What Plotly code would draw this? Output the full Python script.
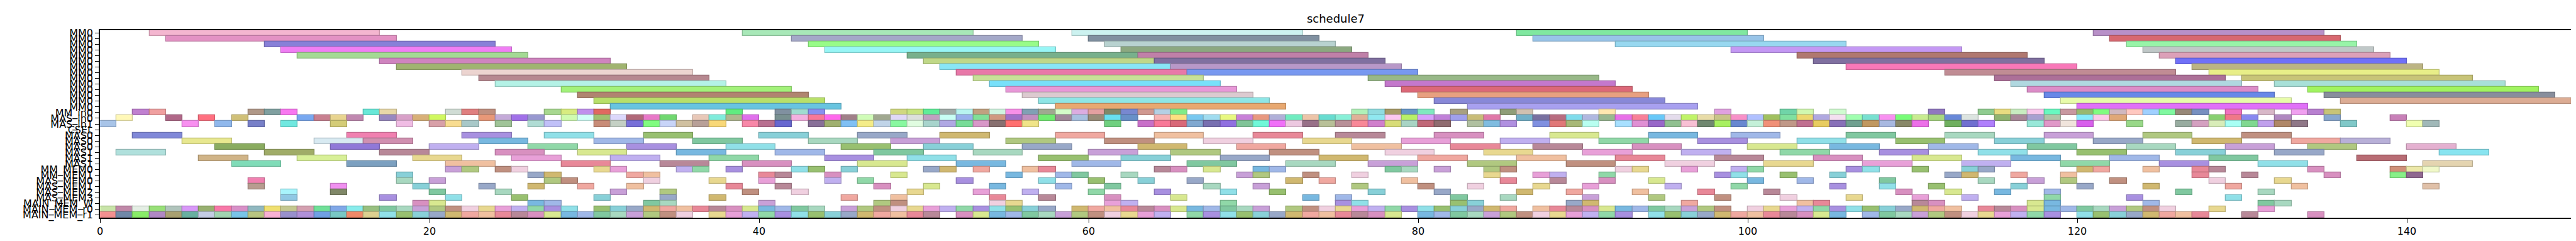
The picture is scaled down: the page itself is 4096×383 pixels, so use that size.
import plotly.graph_objects as go

# ---------------- labels (top to bottom) ----------------
LABELS = ["MM0"] * 14 + [
    "MM_in0", "MAS_in0", "MAS_in1", "CSEL",
    "MAS0", "MAS0", "MAS0", "MAS1", "MAS1", "MAS1",
    "MM_MEM0", "MM_MEM1", "MAS_MEM0", "MAS_MEM1", "MAS_MEM2", "MAS_MEM3",
    "MAIN_MEM_W", "MAIN_MEM_r0", "MAIN_MEM_r1",
]
X_TICKS = [0, 20, 40, 60, 80, 100, 120, 140]

# ---------------- MM rows: long tasks (duration 14) ----------------
MM_DUR = 14
mm_start = [
    [3, 39, 59, 86, 121],
    [4, 42, 60, 87, 122],
    [10, 43, 61, 92, 123],
    [11, 44, 62, 99, 124],
    [12, 49, 63, 103, 125],
    [17, 50, 64, 104, 126],
    [18, 51, 65, 106, 127],
    [22, 52, 66, 112, 128],
    [23, 53, 77, 115, 130],
    [24, 54, 78, 116, 132],
    [28, 55, 79, 117, 134],
    [29, 56, 80, 118, 135],
    [30, 57, 81, 119, 136],
    [31, 58, 83, 120],
]
mm_color = [
    ["#f4b6d0", "#a8e8b8", "#ccf2f0", "#80e8a0", "#b890c8"],
    ["#e392c4", "#a4a8c8", "#8090a0", "#98c4e8", "#d86870"],
    ["#8880d8", "#98fc88", "#b8d2d0", "#98d8f0", "#98f4a8"],
    ["#f07ef4", "#98f6f6", "#8ca880", "#c498f4", "#c0c8c8"],
    ["#a4da94", "#78b08c", "#c080a8", "#b07870", "#dca0b8"],
    ["#cf84bf", "#c0d888", "#8070a0", "#8070a0", "#7070f8"],
    ["#a0b470", "#88e6f6", "#b898c8", "#f878b8", "#bcb484"],
    ["#ecd4d0", "#e878a8", "#7898f0", "#c08c94", "#e8ee88"],
    ["#b68890", "#c8e098", "#98b888", "#ac7098", "#c8c478"],
    ["#b4f2e6", "#78e0fa", "#c478cc", "#b0d8e0", "#a8e0d8"],
    ["#a2f27a", "#e898d8", "#dc6878", "#dc8cc8", "#a0f460"],
    ["#b08570", "#dccad0", "#e8a080", "#6888e8", "#888e9c"],
    ["#b8e06a", "#8ee6e6", "#8888d8", "#e8fcaa", "#dcac94"],
    ["#68c4e0", "#e8a870", "#a8a0f0", "#e070f8"],
]

# ---------------- MM_in0 (unit slots) ----------------
r14_start = [2, 3, 9, 10, 11, 16, 17, 21, 22, 23,
             27, 28, 29, 30, 38, 41, 42, 43, 48, 49,
             50, 51, 52, 53, 54, 55, 56, 57, 58, 59, 60, 61, 62, 63, 64, 65,
             76, 77, 78, 79, 80, 82, 85, 86, 91, 98,
             102, 103, 105, 111, 114, 115, 116, 117, 118, 119, 120, 121, 122, 123,
             124, 125, 126, 127, 129, 131, 133, 134, 135]
r14_color = ["#c080d0", "#f0a0a0", "#b09888", "#80a0a0", "#f878f0", "#68e8d8", "#e8d8a8", "#d0dcd4", "#e08080", "#c09080",
             "#a8d890", "#d8ec80", "#c090ec", "#e06860", "#60ec80", "#8090a0", "#a0dcd0", "#8890f0", "#d0d880", "#c8e480",
             "#60ec98", "#a0aca8", "#b8f4f0", "#c0a080", "#d0f4e0", "#f890e8", "#80a0b4", "#a0a890", "#d4fcc8", "#dcace0",
             "#e4a0a0", "#808868", "#7888d0", "#d09890", "#b4d0e4", "#80ec88",
             "#b0f0b8", "#90dce0", "#a89c68", "#6898c8", "#80e8c0", "#a8a080", "#909e78", "#d0c0b0", "#ffe8b0", "#e0a0e0",
             "#70d4a8", "#d0f8b0", "#d0fcd0", "#9078c0", "#90cc90", "#e8dc80", "#c8ecc0", "#f8c8ec", "#68f8c0", "#c898a0",
             "#98b870", "#80fc80", "#d0b8c0", "#ffc8c0",
             "#a0d0ff", "#80f8a0", "#988878", "#7890c0", "#f070c0", "#d8b8c8", "#f0a0f0", "#b880d0", "#c8c478"]

# ---------------- MAS_in0 ----------------
r15_start = [1, 4, 6, 8, 12, 13, 14, 15, 17, 18, 19, 20, 23, 24,
             25, 26, 28, 29, 30, 31, 32, 33, 34, 36, 37, 38, 39, 41, 42, 43, 44, 45, 46, 47, 48, 49,
             50, 51, 52, 53, 54, 55, 56, 57, 58, 59, 60, 61, 62, 64, 65, 66, 67, 68, 69, 70, 71, 72, 73,
             74, 75, 76, 77, 78, 79, 80, 81, 82, 83, 84, 86, 87, 88, 89, 90, 91, 92, 93, 94, 95, 96, 97, 98,
             99, 100, 101, 102, 103, 104, 105, 106, 107, 108, 109, 110, 111, 112, 113, 115, 116, 117, 118, 120, 121, 122,
             128, 129, 130, 132, 135, 139]
r15_color = ["#fff8b8", "#b06888", "#ff7080", "#d0c078", "#78a8f0", "#c88090", "#e8d490", "#c088b0", "#9888c0", "#d8a0c8",
             "#d8b078", "#d0f860", "#e89878", "#c4aad8",
             "#a070e8", "#9898d0", "#d0fcb0", "#d0fff8", "#a0c070", "#dcd8fc", "#b06878", "#e878c8", "#70d870", "#e8c8b8",
             "#80ecdc", "#b0b890", "#e070ec", "#789090", "#f4b0e0", "#f87898", "#ff68ec", "#a08088", "#d0fcb8", "#a0a890",
             "#e0d8f8", "#dce0dc",
             "#c0a0c0", "#c8fff4", "#98b0ec", "#80e098", "#d09880", "#a070c8", "#c090c0", "#70ec70", "#a08898", "#a8c0e0",
             "#988c78", "#68e0f0", "#6890c8", "#f8b4b4", "#fce080", "#78c8f0", "#a0dcf0", "#e8f880", "#c880d8", "#e89880",
             "#b0b0d8", "#70ecc0", "#ecc4a8",
             "#68dcd0", "#88f0d8", "#e0b098", "#90e8f0", "#fcc8f0", "#b8f068", "#d8a0fc", "#c080d8", "#a0a0ec", "#c8bc78",
             "#e078a8", "#70b0c8", "#7870a0", "#b86c80", "#80dcec", "#b0b8e0", "#98b890", "#e870e8", "#f88098", "#68c8f8",
             "#e4dcec", "#c0f468", "#e8dca8", "#c8c488",
             "#f890c8", "#b0c0ff", "#a0c060", "#80e0a0", "#ecd870", "#b0a8e0", "#f4e0f0", "#a0ffb0", "#78e0d0", "#f890f0",
             "#78fc78", "#c8ec90", "#a8d880", "#6888d8", "#dce4e0", "#90b470", "#a88898", "#a8a0d0", "#b0c4a8", "#88ecfc",
             "#fccce8", "#e0a878",
             "#88d070", "#f07888", "#8888f0", "#b088c0", "#88a8d0", "#c880b8"]

# ---------------- MAS_in1 ----------------
r16_start = [0, 5, 7, 9, 11, 14, 18, 20, 21, 22, 24,
             26, 27, 30, 31, 32, 33, 34, 35, 36, 37, 39, 40, 41, 43, 44, 45, 46, 47, 48, 49,
             50, 51, 52, 53, 54, 55, 56, 61, 63, 64, 65, 66, 67, 68, 69, 70, 71, 72, 73,
             74, 75, 76, 77, 78, 79, 80, 81, 83, 84, 85, 87, 88, 89, 90, 92, 93, 94, 95, 96, 97, 98,
             99, 100, 101, 102, 103, 104, 105, 106, 107, 108, 109, 110, 112, 113, 114, 117, 118, 119, 120, 123,
             126, 127, 128, 129, 130, 131, 132, 133, 136, 140, 141]
r16_color = ["#a8c4e8", "#f890f0", "#90b8ec", "#7880c8", "#70e8e0", "#d4cc78", "#f0bce4", "#d8a0a8", "#f8dc90", "#a8c8c8",
             "#a0c498",
             "#b0dcd4", "#c0c0f8", "#c88c78", "#c4d0c4", "#7870d8", "#80fc80", "#c8d4f8", "#d0c0a0", "#b8a098", "#f8d878",
             "#f888a8", "#b87090", "#6868d0", "#887098", "#a0b070", "#80c0f4", "#f4ec88", "#c0d4e8", "#88f8a0", "#e0fce0",
             "#a8d4cc", "#b0a8e4", "#78dc98", "#d898c8", "#887070", "#ff7070", "#f0e488", "#70d080", "#c870c8", "#f87898",
             "#d86878", "#80a8d0", "#7870b0", "#9070e0", "#80c498", "#70f8d8", "#f070f8", "#ecc8e0", "#987088",
             "#b8c098", "#b89098", "#f88898", "#d080cc", "#d8dc78", "#a8d4c4", "#c06878", "#906c70", "#b0c0a0", "#80bce0",
             "#b090e0", "#8090e0", "#e07878", "#a8b878", "#b8fff0", "#a8e0ff", "#e090d4", "#9868c8", "#90c090", "#f8c0d4",
             "#708870", "#a8f060",
             "#6888d0", "#c4f0d8", "#f09078", "#c09888", "#c07090", "#e8cc60", "#8870b8", "#70a090", "#c09860", "#a8b8e0",
             "#888868", "#ec70e8", "#70b060", "#7070d0", "#b080fc", "#98e8d8", "#e098c8", "#f0e4dc", "#d860ec", "#98d888",
             "#98aca0", "#d4a0c0", "#d8ecb8", "#a8fff4", "#80d890", "#c0a0ec", "#b08868", "#907888", "#80c8c8", "#f0ffb0",
             "#a0b8b8"]

# ---------------- MAS rows (duration 3; middle part estimated) ----------------
MAS_DUR = 3
r18_start = [2, 15, 22, 27, 33, 40, 46, 51, 58, 64, 70, 75, 81, 88, 94, 99, 106, 112, 118, 124, 130]
r19_start = [5, 13, 16, 23, 30, 36, 43, 48, 55, 61, 67, 73, 79, 85, 91, 97, 103, 109, 115, 121, 127, 133, 136]
r20_start = [7, 14, 20, 26, 32, 38, 45, 50, 56, 63, 69, 76, 82, 87, 93, 100, 105, 111, 117, 123, 129, 134, 140]
r21_start = [1, 10, 17, 24, 29, 35, 41, 47, 53, 60, 65, 71, 78, 84, 90, 96, 102, 108, 114, 120, 126, 132, 142]
r22_start = [6, 12, 19, 25, 31, 37, 44, 49, 57, 62, 68, 74, 80, 86, 92, 98, 104, 110, 116, 122, 128, 137]
r23_start = [8, 15, 21, 28, 34, 39, 46, 52, 59, 66, 72, 77, 83, 89, 95, 101, 107, 113, 119, 125, 131, 141]
mas_first_colors = {
    18: ["#8088d8", "#f080b0"],
    19: ["#e8e890", "#d8eaf2", "#d090b0"],
    20: ["#8aac60", "#9078d8"],
    21: ["#b0e0dc", "#a0ac68"],
    22: ["#d0b488", "#d8f098"],
    23: ["#80dcb8", "#7ca0c0"],
}

# ---------------- memory rows (unit slots; middle part estimated) ----------------
r24_start = [21, 22, 24, 25, 30, 31, 35, 36, 38, 42, 43, 45, 50, 51, 53, 56, 57, 64, 65, 67, 70, 71, 78, 79, 81,
             84, 85, 92, 93, 96, 99, 100, 106, 107, 110, 113, 114, 120, 121, 124, 127, 128, 134, 139, 140, 141]
r25_start = [18, 26, 27, 32, 33, 40, 41, 44, 48, 55, 58, 59, 62, 69, 70, 73, 76, 84, 87, 88, 91, 98, 99, 102,
             105, 112, 113, 116, 119, 127, 130, 135, 139, 140]
r26_start = [9, 18, 20, 27, 28, 33, 37, 40, 44, 46, 52, 57, 60, 63, 66, 72, 74, 79, 85, 88, 91, 94, 100, 103,
             108, 114, 117, 119, 122, 128, 132]
r27_start = [9, 14, 19, 23, 26, 29, 32, 38, 41, 47, 50, 54, 58, 61, 67, 70, 76, 80, 83, 87, 90, 95, 99, 105,
             108, 111, 116, 120, 124, 129, 133, 141]
r28_start = [11, 14, 20, 24, 31, 34, 39, 42, 49, 53, 56, 60, 64, 68, 71, 77, 81, 86, 89, 93, 97, 101, 109,
             112, 115, 118, 126, 131]
r29_start = [11, 17, 21, 25, 30, 34, 37, 45, 48, 54, 57, 61, 65, 73, 75, 82, 85, 90, 94, 98, 102, 106, 110,
             113, 118, 123, 129]
r30_start = [19, 20, 26, 27, 33, 34, 40, 47, 48, 54, 55, 61, 62, 68, 75, 76, 82, 83, 89, 90, 96, 103, 104,
             110, 111, 117, 118, 124, 131, 132]
r31_start = [s for s in range(0, 126) if s not in (29, 44, 58, 71, 86, 99, 113)] + [128, 131]
r32_start = [s for s in range(0, 128) if s not in (36, 51, 65, 79, 93, 106, 119)] + [130, 134]
r31_first_colors = ["#c8e4a8", "#c088a8", "#e4eee4", "#98e078", "#b0c4bc", "#d898f8", "#98b070", "#f878a8", "#d890c8",
                    "#90b8c0", "#f0e070", "#c4c890", "#d4a0b0", "#70e098", "#80a8e8", "#88ecec", "#98c080"]
r32_first_colors = ["#f49090", "#7088a8", "#88ec68", "#b088c4", "#a8a070", "#68b0a0", "#c4cce4", "#a0d4b0", "#78c4e8",
                    "#b8c480", "#f8b0d4", "#9890cc", "#b090d8", "#70a0e4", "#78c8c4", "#f08868", "#dcd090"]
tail_colors = {
    19: {136: "#b8b0d8"}, 20: {140: "#e4b0d0"}, 21: {142: "#88e4f0"}, 22: {137: "#b86c74"},
    23: {141: "#e4d4b0"}, 24: {139: "#d09078", 140: "#ece8a8", 141: "#f0f8c8"},
    25: {139: "#88f088", 140: "#906890"}, 27: {141: "#e0c0a8"},
    26: {9: "#f080b0"}, 27.5: {},
}
early_colors = {
    27: {9: "#b89c90", 14: "#f090f0"}, 28: {11: "#a8f4fc", 14: "#808868"}, 29: {11: "#90c8e4"},
}

# generic palette for cells whose colour could not be read individually
PALETTE = ["#c8a0d8", "#90d8a8", "#f0a8a0", "#a0b8e8", "#e8d890", "#88d0d8", "#d890c0", "#b0c880",
           "#a890e0", "#f0c0a0", "#80c8a0", "#e8a0d8", "#98a8c8", "#d8e890", "#c09080", "#90e0e8",
           "#e88898", "#a8d8c0", "#c0b0f0", "#d0b870", "#78b8e0", "#f0d0e0", "#98c070", "#b88898"]

# ---------------- build bars ----------------
N = len(LABELS)
bases, widths, ys, fills, edges = [], [], [], [], []


def darken(hx, f=0.82):
    r, g, b = int(hx[1:3], 16), int(hx[3:5], 16), int(hx[5:7], 16)
    return "rgb(%d,%d,%d)" % (r * f, g * f, b * f)


def add_row(row, starts, dur, colors=None, first=None, tail=None):
    for k, s in enumerate(starts):
        if colors is not None:
            c = colors[k]
        elif first is not None and k < len(first):
            c = first[k]
        elif tail is not None and s in tail:
            c = tail[s]
        else:
            c = PALETTE[(k * 7 + row * 5) % len(PALETTE)]
        bases.append(s)
        widths.append(dur)
        ys.append(N - 1 - row)
        fills.append(c)
        edges.append(darken(c))


for i, (st, co) in enumerate(zip(mm_start, mm_color)):
    add_row(i, st, MM_DUR, co)
add_row(14, r14_start, 1, r14_color)
add_row(15, r15_start, 1, r15_color)
add_row(16, r16_start, 1, r16_color)
for row, st in zip(range(18, 24), [r18_start, r19_start, r20_start, r21_start, r22_start, r23_start]):
    add_row(row, st, MAS_DUR, first=mas_first_colors[row], tail=tail_colors.get(row))
for row, st in zip(range(24, 31), [r24_start, r25_start, r26_start, r27_start, r28_start, r29_start, r30_start]):
    tc = dict(tail_colors.get(row, {}))
    tc.update(early_colors.get(row, {}))
    add_row(row, st, 1, tail=tc)
add_row(31, r31_start, 1, first=r31_first_colors)
add_row(32, r32_start, 1, first=r32_first_colors)

fig = go.Figure(go.Bar(
    x=widths, y=ys, base=bases, orientation="h", width=1.0,
    marker=dict(color=fills, line=dict(color=edges, width=1.3)),
    hoverinfo="skip",
))

FONT = "DejaVu Sans"
fig.update_layout(
    width=4096, height=383,
    margin=dict(l=151, r=15, t=40, b=45),
    paper_bgcolor="white", plot_bgcolor="white",
    showlegend=False, bargap=0,
    title=dict(text="schedule7", x=0.5, xref="paper", xanchor="center",
               y=1 - 22 / 383, yref="container", yanchor="middle",
               font=dict(family=FONT, size=18, color="black")),
    font=dict(family=FONT, color="black"),
)
fig.update_xaxes(range=[0, 150], tickmode="array", tickvals=X_TICKS,
                 ticktext=[str(v) for v in X_TICKS],
                 ticks="outside", ticklen=6, tickwidth=1.2, tickcolor="black",
                 showline=True, linecolor="black", linewidth=1.6, mirror=True,
                 showgrid=False, zeroline=False,
                 tickfont=dict(family=FONT, size=16, color="black"))
fig.update_yaxes(range=[-0.5, N - 0.5], tickmode="array", tickvals=list(range(N)),
                 ticktext=LABELS[::-1],
                 ticks="outside", ticklen=6, tickwidth=1.2, tickcolor="black",
                 showline=True, linecolor="black", linewidth=1.6, mirror=True,
                 showgrid=False, zeroline=False,
                 tickfont=dict(family=FONT, size=16, color="black"))

fig.write_html("out.html")
